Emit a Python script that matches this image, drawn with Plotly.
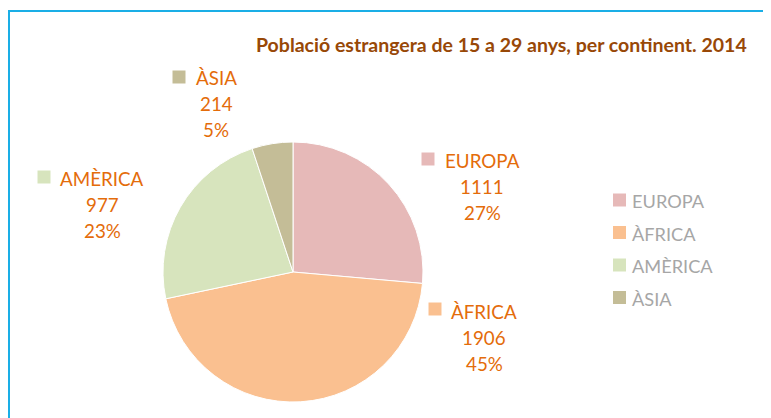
import plotly.graph_objects as go

W, H = 771, 418
OFF = 8  # browser body margin offset

categories = ["EUROPA", "ÀFRICA", "AMÈRICA", "ÀSIA"]
values = [1111, 1906, 977, 214]
percent_labels = [27, 45, 23, 5]
colors = ["#E6B9B8", "#FAC090", "#D7E4BD", "#C4BD97"]
title_text = "Població estrangera de 15 a 29 anys, per continent. 2014"

# label block positions in pixels (centre x of text, centre y of first line), square centre
label_pos = {
    "EUROPA": (482, 160, 428, 159),
    "ÀFRICA": (484, 311, 435, 309),
    "AMÈRICA": (102, 178, 44, 177),
    "ÀSIA": (216, 77, 179, 77),
}
line_gap = 26
label_color = "#E46C0A"
font_family = "Lato, 'Open Sans', sans-serif"


def px(x):
    return (x - OFF) / W


def py(y):
    return 1 - (y - OFF) / H


cx, cy, r = 293, 272, 130

fig = go.Figure(
    go.Pie(
        labels=categories,
        values=values,
        sort=False,
        direction="clockwise",
        rotation=0,
        marker=dict(colors=colors, line=dict(color="white", width=1)),
        textinfo="none",
        hoverinfo="label+value+percent",
        showlegend=False,
        domain=dict(x=[px(cx - r), px(cx + r)], y=[py(cy + r), py(cy - r)]),
    )
)

annotations = []
shapes = []

# frame
shapes.append(dict(type="rect", xref="paper", yref="paper",
                   x0=px(9), x1=1.1, y0=-0.1, y1=py(11),
                   line=dict(color="#1AAEE6", width=2), fillcolor="rgba(0,0,0,0)"))

# title
annotations.append(dict(text="<b>" + title_text + "</b>", xref="paper", yref="paper",
                        x=px(749), y=py(45), xanchor="right", yanchor="middle",
                        showarrow=False,
                        font=dict(family=font_family, size=19.5, color="#984807")))

# data labels
for cat, val, pct, col in zip(categories, values, percent_labels, colors):
    tx, ty, sx, sy = label_pos[cat]
    for i, t in enumerate([cat, str(val), f"{pct}%"]):
        annotations.append(dict(text=t, xref="paper", yref="paper",
                                x=px(tx), y=py(ty + i * line_gap),
                                xanchor="center", yanchor="middle", showarrow=False,
                                font=dict(family=font_family, size=18.8, color=label_color)))
    shapes.append(dict(type="rect", xref="paper", yref="paper",
                       x0=px(sx - 6.5), x1=px(sx + 6.5), y0=py(sy + 6.5), y1=py(sy - 6.5),
                       line=dict(width=0), fillcolor=col))

# legend (custom, right side)
leg_x, leg_y0, leg_gap = 619.5, 200, 32.5
for i, (cat, col) in enumerate(zip(categories, colors)):
    yy = leg_y0 + i * leg_gap
    shapes.append(dict(type="rect", xref="paper", yref="paper",
                       x0=px(leg_x - 6.5), x1=px(leg_x + 6.5), y0=py(yy + 6.5), y1=py(yy - 6.5),
                       line=dict(width=0), fillcolor=col))
    annotations.append(dict(text=cat, xref="paper", yref="paper",
                            x=px(630), y=py(yy + 1), xanchor="left", yanchor="middle",
                            showarrow=False,
                            font=dict(family=font_family, size=18.2, color="#A6A6A6")))

fig.update_layout(
    width=W, height=H,
    margin=dict(l=0, r=0, t=0, b=0),
    paper_bgcolor="white",
    plot_bgcolor="white",
    annotations=annotations,
    shapes=shapes,
    showlegend=False,
)

fig.write_html("out.html")
